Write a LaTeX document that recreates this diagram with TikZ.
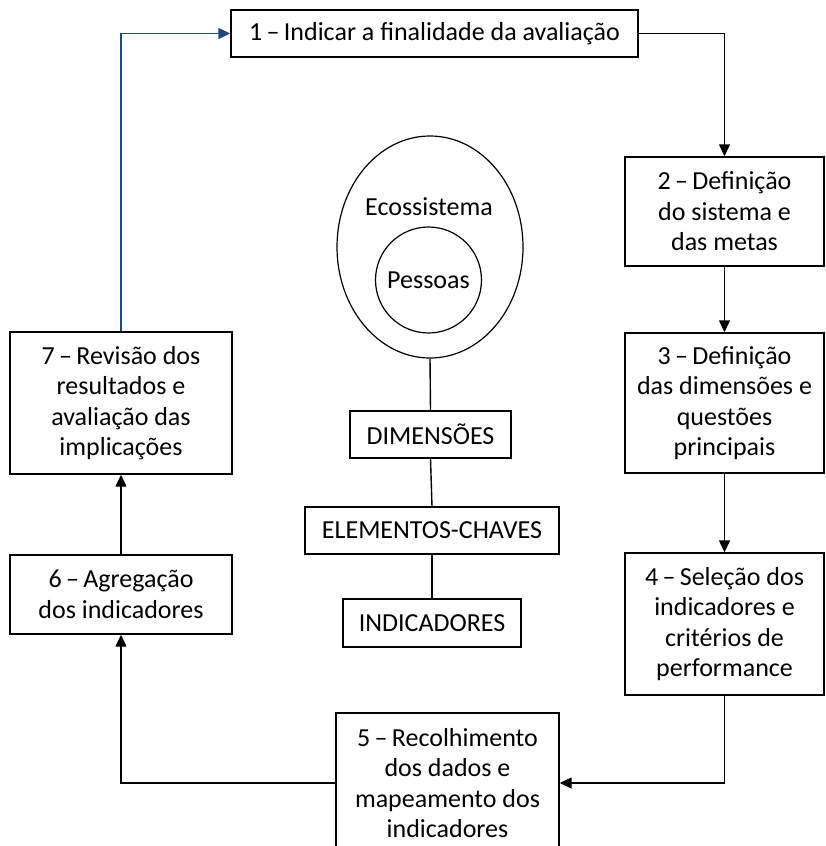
\documentclass[tikz,border=0pt]{standalone}
\usepackage{fontspec}
\setmainfont{Carlito}
\usepackage{xcolor}
\usepackage{tikz}
\usetikzlibrary{shapes,arrows,positioning,calc,arrows.meta}
\definecolor{linkblue}{HTML}{1F497D}
\newcommand{\stepdash}{\,–\,}
\tikzset{
  stepbox/.style={draw, line width=1.4pt, align=center, inner sep=0pt},
  arr/.style={line width=1.4pt, -{Triangle[length=12pt,width=11pt]}},
  link/.style={line width=1.4pt}
}

\begin{document}
\begin{tikzpicture}[x=1pt,y=-1pt,font=\fontsize{26}{30.5}\selectfont]
\useasboundingbox (0,0) rectangle (825,846);
% Cycle steps
\node[stepbox, minimum width=407pt, minimum height=47pt] (b1) at (434.5,33.5) {1\stepdash Indicar a finalidade da avaliação};
\node[stepbox, minimum width=199pt, minimum height=109pt] (b2) at (724.5,211.5) {2\stepdash Definição\\do sistema e\\das metas};
\node[stepbox, minimum width=199pt, minimum height=140pt] (b3) at (724.5,403) {3\stepdash Definição\\das dimensões e\\questões\\principais};
\node[stepbox, minimum width=199pt, minimum height=142pt] (b4) at (724.5,624) {4\stepdash Seleção dos\\indicadores e\\critérios de\\performance};
\node[stepbox, minimum width=223pt, minimum height=140pt] (b5) at (447.5,783) {5\stepdash Recolhimento\\dos dados e\\mapeamento dos\\indicadores};
\node[stepbox, minimum width=222pt, minimum height=79pt] (b6) at (121,594.5) {6\stepdash Agregação\\dos indicadores};
\node[stepbox, minimum width=222pt, minimum height=142pt] (b7) at (121,403) {7\stepdash Revisão dos\\resultados e\\avaliação das\\implicações};
% Centre
\node[draw, ellipse, line width=1.2pt, minimum width=186pt, minimum height=222pt] (eco) at (430,247) {};
\node (ecotxt) at (429,207) {Ecossistema};
\node[draw, circle, line width=1.2pt, minimum size=106pt, inner sep=0pt] (pess) at (428.5,280) {Pessoas};
\node[stepbox, minimum width=161pt, minimum height=47pt] (dim) at (430.5,434.5) {DIMENSÕES};
\node[stepbox, minimum width=254pt, minimum height=47pt] (elem) at (432,530.5) {ELEMENTOS-CHAVES};
\node[stepbox, minimum width=178pt, minimum height=48pt] (ind) at (432,623) {INDICADORES};
\draw[link] (eco.south) -- (dim.north);
\draw[link] (dim.south) -- (elem.north);
\draw[link] (elem.south) -- (ind.north);
% Connectors
\draw[arr] (b1.east) -| (b2.north);
\draw[arr] (b2) -- (b3);
\draw[arr] (b3) -- (b4);
\draw[arr] (b4.south) |- (b5.east);
\draw[arr] (b5.west) -| (b6.south);
\draw[arr] (b6) -- (b7);
\draw[arr, linkblue] (b7.north) |- (b1.west);
\end{tikzpicture}
\end{document}
